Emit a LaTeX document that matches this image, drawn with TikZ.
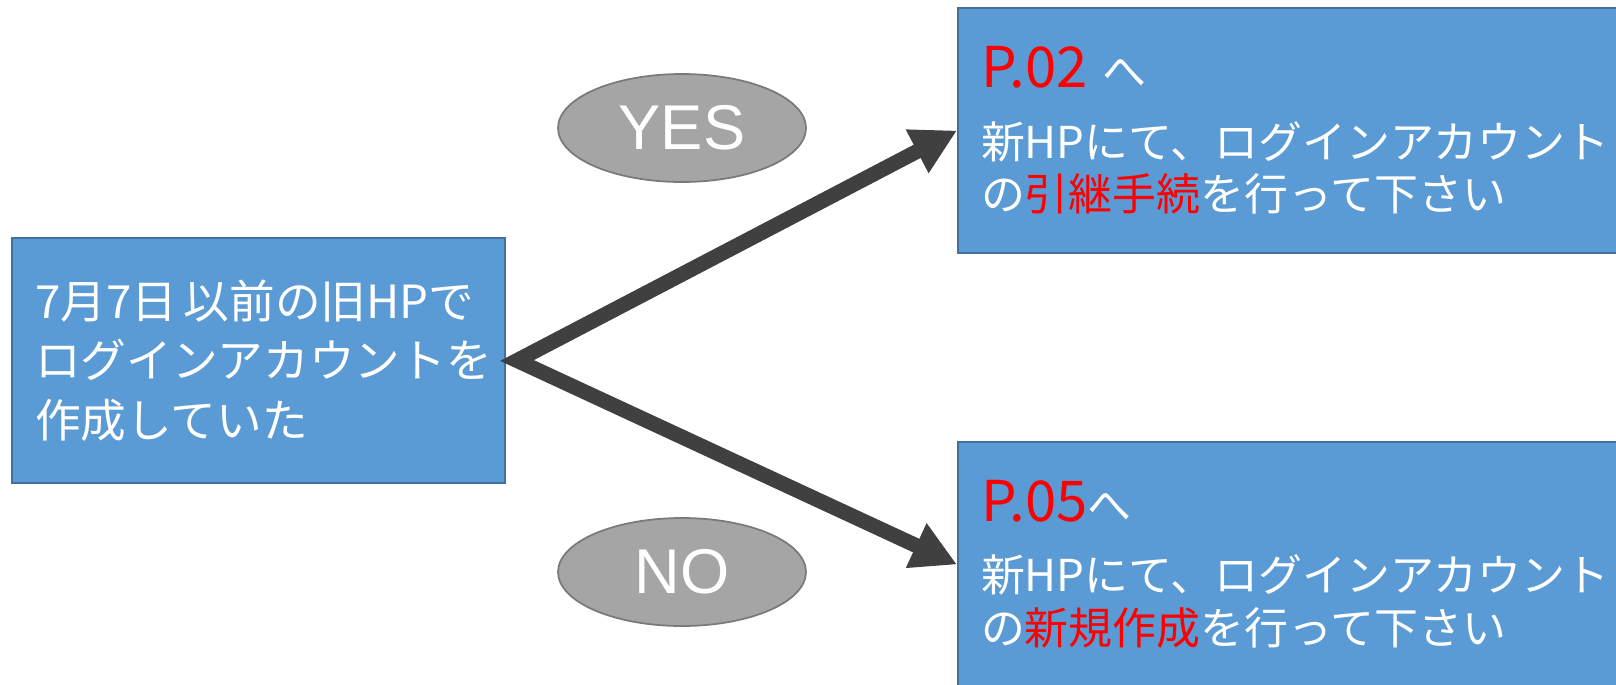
\documentclass[tikz,border=0pt]{standalone}
\usepackage{fontspec}
\setmainfont{Noto Sans CJK JP}
\newfontfamily\answerfont{Liberation Sans}
\usetikzlibrary{shapes.geometric,arrows.meta}
\definecolor{boxblue}{HTML}{5B9BD5}
\definecolor{boxedge}{HTML}{41719C}
\definecolor{ovalgray}{HTML}{A5A5A5}
\definecolor{ovaledge}{HTML}{7A7A7A}
\definecolor{arrowgray}{HTML}{404040}
\tikzset{
  infobox/.style={draw=boxedge, fill=boxblue, line width=1.2pt, text=white,
    align=left, inner xsep=0.46cm, minimum height=4.9cm},
  answer/.style={ellipse, draw=ovaledge, fill=ovalgray, line width=1pt,
    minimum width=4.96cm, minimum height=2.16cm, text=white,
    font=\answerfont\fontsize{36}{40}\selectfont},
  flow/.style={draw=arrowgray, line width=8.5pt, line join=miter,
    {Triangle[length=0.9cm,width=0.92cm]}-{Triangle[length=0.9cm,width=0.92cm]}}
}

\begin{document}
\begin{tikzpicture}[x=0.02cm,y=-0.02cm]
\path [use as bounding box, clip] (0,0) rectangle (1616,684);

        \node [infobox, text width=8.94cm, font=\fontsize{26}{34}\selectfont] (oldhp) at (258.5,360.5)
        {7月7日\hspace{0.15em}以前の旧HPで\\ログインアカウントを\\作成していた};

        \node [infobox, text width=12.52cm, font=\fontsize{25}{30}\selectfont] (transfer) at (1294,130.5)
        {{\fontsize{32}{30}\selectfont\textcolor{red}{P.02}} へ\\[10pt]新HPにて、ログインアカウント\\の\textcolor{red}{引継手続}を行って下さい};

        \node [infobox, text width=12.52cm, font=\fontsize{25}{30}\selectfont] (newacct) at (1294,564.5)
        {{\fontsize{32}{30}\selectfont\textcolor{red}{P.05}}へ\\[10pt]新HPにて、ログインアカウント\\の\textcolor{red}{新規作成}を行って下さい};

        \node [answer] (yes) at (682,128) {YES};
        \node [answer] (no) at (682,572) {NO};

        \draw [flow] (transfer.west) -- ([xshift=0.22cm]oldhp.east) -- (newacct.west);
    \end{tikzpicture}
\end{document}
